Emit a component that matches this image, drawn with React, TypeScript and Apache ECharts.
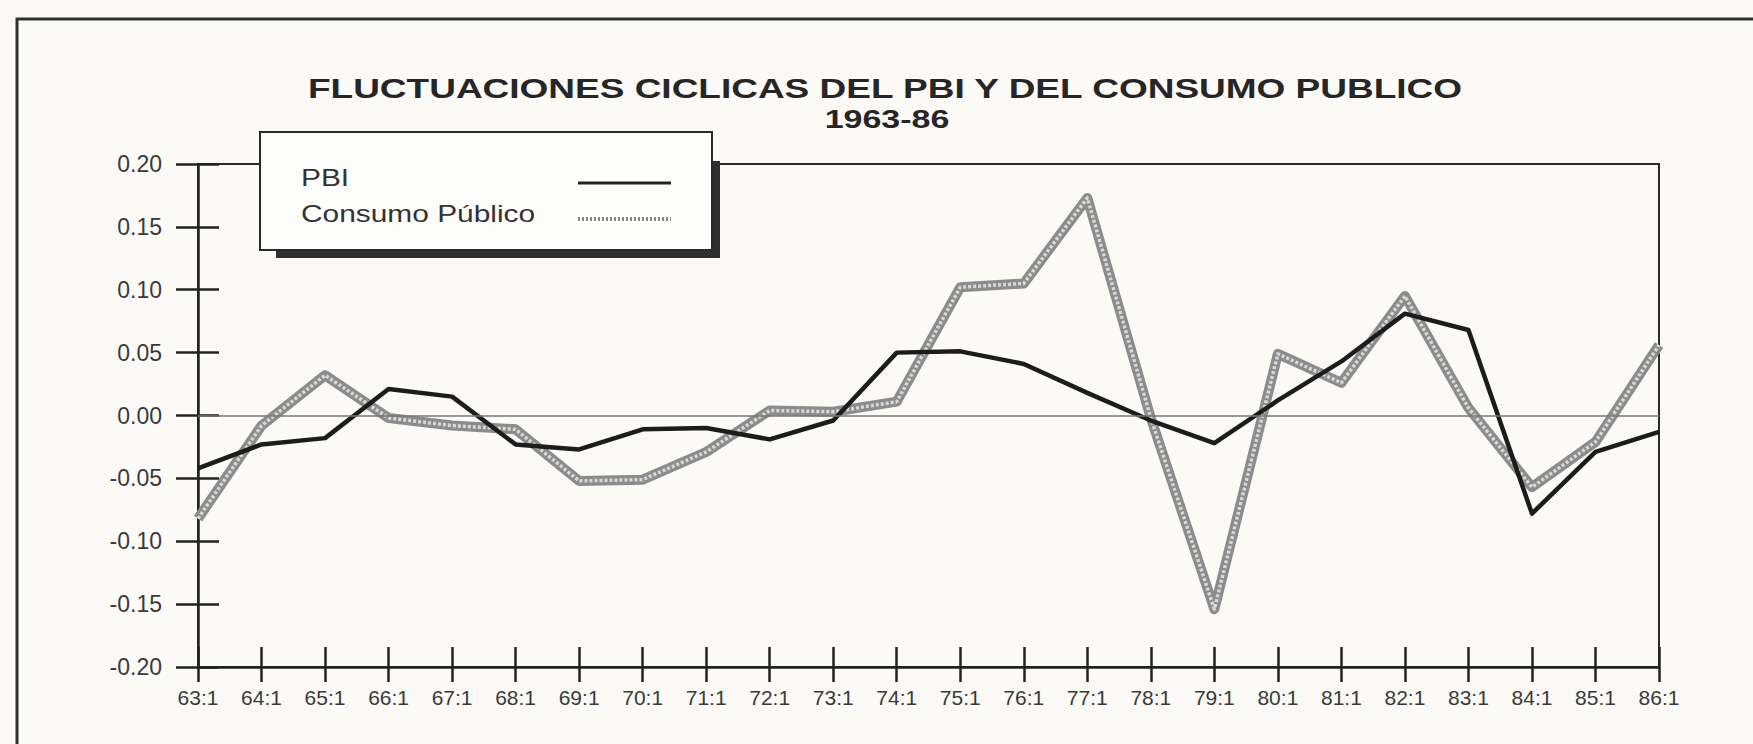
import React, { useEffect, useRef } from "react";
import * as echarts from "echarts";

const categories = [
  "63:1", "64:1", "65:1", "66:1", "67:1", "68:1", "69:1", "70:1", "71:1", "72:1", "73:1", "74:1",
  "75:1", "76:1", "77:1", "78:1", "79:1", "80:1", "81:1", "82:1", "83:1", "84:1", "85:1", "86:1",
];
const pbiValues = [
  -0.042, -0.023, -0.018, 0.021, 0.015, -0.023, -0.027, -0.011, -0.010, -0.019, -0.004, 0.050,
  0.051, 0.041, 0.018, -0.004, -0.022, 0.012, 0.043, 0.081, 0.068, -0.078, -0.029, -0.013,
];
const consumoValues = [
  -0.082, -0.008, 0.032, -0.002, -0.008, -0.011, -0.052, -0.051, -0.029, 0.004, 0.003, 0.011,
  0.102, 0.105, 0.173, -0.002, -0.154, 0.049, 0.026, 0.095, 0.006, -0.057, -0.021, 0.056,
];
const yMin = -0.2;
const yMax = 0.2;
const yStep = 0.05;
const seriesNames = ["PBI", "Consumo Público"];
const titleText = "FLUCTUACIONES CICLICAS DEL PBI Y DEL CONSUMO PUBLICO";
const subtitleText = "1963-86";

const FONT = '"Liberation Sans", Arial, Helvetica, sans-serif';
const INK = "#262626";

export default function App() {
  const ref = useRef<HTMLDivElement>(null);

  useEffect(() => {
    if (!ref.current) return;
    const chart = echarts.init(ref.current, undefined, { renderer: "svg" });

    const axisLineStyle = { color: "#222", width: 2.5 };
    const fmt = (v: number) => (Math.abs(v) < 1e-9 ? "0.00" : v.toFixed(2));

    chart.setOption({
      animation: false,
      backgroundColor: "#fbfaf6",
      grid: {
        left: 198,
        right: 94,
        top: 164,
        bottom: 77,
        show: true,
        borderColor: "#2a2a2a",
        borderWidth: 2,
        backgroundColor: "transparent",
      },
      xAxis: [
        {
          type: "category",
          data: categories,
          boundaryGap: false,
          position: "bottom",
          axisLine: { show: true, onZero: false, lineStyle: axisLineStyle },
          axisTick: { show: true, inside: false, length: 15, interval: 0, lineStyle: axisLineStyle },
          axisLabel: { interval: 0, fontSize: 21, color: "#3a3a3a", margin: 20, fontFamily: FONT },
          splitLine: { show: false },
        },
        {
          type: "category",
          data: categories,
          boundaryGap: false,
          position: "bottom",
          axisLine: { show: false, onZero: false },
          axisTick: { show: true, inside: true, length: 20, interval: 0, lineStyle: axisLineStyle },
          axisLabel: { show: false },
          splitLine: { show: false },
        },
      ],
      yAxis: [
        {
          type: "value",
          min: yMin,
          max: yMax,
          interval: yStep,
          position: "left",
          axisLine: { show: true, onZero: false, lineStyle: axisLineStyle },
          axisTick: { show: true, inside: false, length: 22, lineStyle: axisLineStyle },
          axisLabel: { formatter: fmt, fontSize: 23, color: "#3a3a3a", margin: 36, fontFamily: FONT },
          splitLine: { show: false },
        },
        {
          type: "value",
          min: yMin,
          max: yMax,
          interval: yStep,
          position: "left",
          axisLine: { show: false, onZero: false },
          axisTick: { show: true, inside: true, length: 21, lineStyle: axisLineStyle },
          axisLabel: { show: false },
          splitLine: { show: false },
        },
      ],
      series: [
        {
          type: "line",
          data: [],
          z: 1,
          silent: true,
          markLine: {
            silent: true,
            symbol: "none",
            label: { show: false },
            lineStyle: { color: "#777", width: 1.5, type: "solid" },
            data: [{ yAxis: 0 }],
          },
        },
        {
          name: seriesNames[1],
          type: "line",
          data: consumoValues,
          symbol: "none",
          z: 2,
          lineStyle: { color: "#8c8c8c", width: 10, join: "round" },
        },
        {
          name: seriesNames[1],
          type: "line",
          data: consumoValues,
          symbol: "none",
          z: 3,
          lineStyle: { color: "#d8d8d8", width: 3.5, join: "round", type: [3, 2] },
        },
        {
          name: seriesNames[0],
          type: "line",
          data: pbiValues,
          symbol: "none",
          z: 4,
          lineStyle: { color: "#1c1c1c", width: 4.5, join: "round" },
        },
      ],
      graphic: [
        {
          type: "rect",
          z: 100,
          shape: { x: 17, y: 19, width: 1800, height: 800 },
          style: { fill: "none", stroke: "#333", lineWidth: 3 },
          silent: true,
        },
        {
          type: "text",
          z: 100,
          x: 885,
          y: 89,
          scaleX: 1.37,
          style: {
            text: titleText,
            fontSize: 27,
            fontWeight: "bold",
            fontFamily: FONT,
            fill: INK,
            textAlign: "center",
            textVerticalAlign: "middle",
          },
        },
        {
          type: "text",
          z: 100,
          x: 887,
          y: 119,
          scaleX: 1.36,
          style: {
            text: subtitleText,
            fontSize: 25,
            fontWeight: "bold",
            fontFamily: FONT,
            fill: INK,
            textAlign: "center",
            textVerticalAlign: "middle",
          },
        },
        {
          type: "rect",
          z: 100,
          shape: { x: 276, y: 161, width: 444, height: 97 },
          style: { fill: "#2e2e2e" },
        },
        {
          type: "rect",
          z: 101,
          shape: { x: 260, y: 132, width: 452, height: 118 },
          style: { fill: "#fdfdfb", stroke: "#2a2a2a", lineWidth: 2 },
        },
        {
          type: "text",
          z: 102,
          x: 301,
          y: 178,
          scaleX: 1.3,
          style: {
            text: seriesNames[0],
            fontSize: 23,
            fontFamily: FONT,
            fill: "#333",
            textAlign: "left",
            textVerticalAlign: "middle",
          },
        },
        {
          type: "text",
          z: 102,
          x: 301,
          y: 214,
          scaleX: 1.3,
          style: {
            text: seriesNames[1],
            fontSize: 23,
            fontFamily: FONT,
            fill: "#333",
            textAlign: "left",
            textVerticalAlign: "middle",
          },
        },
        {
          type: "line",
          z: 102,
          shape: { x1: 578, y1: 183, x2: 671, y2: 183 },
          style: { stroke: "#222", lineWidth: 3 },
        },
        {
          type: "line",
          z: 102,
          shape: { x1: 578, y1: 219, x2: 671, y2: 219 },
          style: { stroke: "#8a8a8a", lineWidth: 4, lineDash: [2, 2] },
        },
      ],
    });

    return () => chart.dispose();
  }, []);

  return (
    <div
      ref={ref}
      style={{ position: "fixed", left: 0, top: 0, width: 1753, height: 744 }}
    />
  );
}
